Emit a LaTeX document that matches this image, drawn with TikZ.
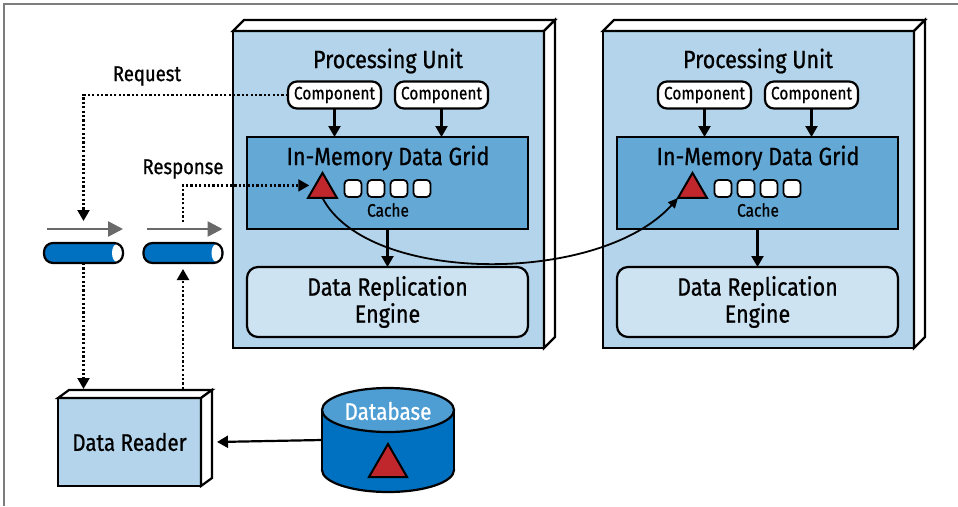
\documentclass[tikz,border=0pt]{standalone}
\usepackage{fontspec}
\setmainfont{Fira Sans}[FakeStretch=0.86, FakeBold=0.8]
\usetikzlibrary{arrows.meta,shapes.geometric,calc}
\definecolor{pufill}{RGB}{179,212,234}
\definecolor{gridfill}{RGB}{100,168,214}
\definecolor{drefill}{RGB}{206,227,241}
\definecolor{trired}{RGB}{192,39,45}
\definecolor{pipeblue}{RGB}{0,112,192}
\definecolor{dbtop}{RGB}{78,158,212}
\definecolor{framegray}{RGB}{125,125,125}
\definecolor{qgray}{RGB}{105,105,105}
\tikzset{
  every node/.style={inner sep=0pt, outer sep=0pt},
  outl/.style={draw=black, line width=2.2pt},
  face/.style={outl, fill=white},
  pubox/.style={outl, fill=pufill, minimum width=311pt, minimum height=317pt},
  titletext/.style={font=\fontsize{25}{29}\selectfont},
  comp/.style={outl, fill=white, rounded corners=9pt, minimum width=93pt, minimum height=27pt, font=\fontsize{18}{20}\selectfont},
  gridbox/.style={outl, fill=gridfill, minimum width=281pt, minimum height=92pt},
  drebox/.style={outl, fill=drefill, rounded corners=11pt, minimum width=281pt, minimum height=70pt, align=center, font=\fontsize{25}{27}\selectfont},
  trinode/.style={regular polygon, regular polygon sides=3, draw=black, line width=2pt, fill=trired, minimum size=#1},
  cachesq/.style={draw=black, line width=1.8pt, fill=white, rounded corners=4pt, minimum width=17pt, minimum height=17pt},
  smalltext/.style={font=\fontsize{18}{20}\selectfont},
  labeltext/.style={font=\fontsize{21.5}{24}\selectfont},
  arr/.style={-{Triangle[length=11pt,width=12pt]}, line width=2.2pt},
  dotarr/.style={-{Triangle[length=11pt,width=12pt]}, line width=2.2pt, dash pattern=on 2.2pt off 2.2pt},
  curvearr/.style={-{Triangle[length=10pt,width=9pt]}, line width=1.8pt},
  qarrow/.style={-{Triangle[length=15pt,width=15pt]}, line width=2.6pt, draw=qgray},
  pipebody/.style={fill=pipeblue, minimum width=#1, minimum height=20pt, rounded corners=9pt},
}
\begin{document}
\begin{tikzpicture}[x=1pt,y=-1pt]
\useasboundingbox (0,0) rectangle (958,506);
% frame
\draw[framegray, line width=1.4pt] (4,506) -- (4,4) -- (958,4);

% processing units
\foreach \i/\dx in {1/0,2/370}{
\begin{scope}[xshift=\dx pt]
  \node[pubox] (pu\i) at (388.5,189.5) {};
  \draw[face] (pu\i.north west) -- ++(11,-11) -- ($(pu\i.north east)+(11,-11)$) -- (pu\i.north east) -- cycle;
  \draw[face] (pu\i.north east) -- ++(11,-11) -- ($(pu\i.south east)+(11,-11)$) -- (pu\i.south east) -- cycle;
  \node[titletext] (title\i) at (388,61) {Processing Unit};
  \node[comp] (comp\i a) at (334.5,95) {Component};
  \node[comp] (comp\i b) at (441.5,95) {Component};
  \node[gridbox] (grid\i) at (387.5,183) {};
  \node[titletext] (gridt\i) at (388,158) {In-Memory Data Grid};
  \node[trinode=33.5pt] (tri\i) at (322.5,189.6) {};
  \foreach \k in {0,...,3}{
    \node[cachesq] (sq\i\k) at (353+23*\k,188.5) {};
  }
  \node[smalltext] (cache\i) at (388,210) {Cache};
  \node[drebox] (dre\i) at (387.5,302) {Data Replication\\Engine};
  \draw[arr] (comp\i a.south) -- (comp\i a.south |- grid\i.north);
  \draw[arr] (comp\i b.south) -- (comp\i b.south |- grid\i.north);
  \draw[arr] (grid\i.south) -- (dre\i.north);
\end{scope}
}

% replication curve
\draw[curvearr] (tri1.south) .. controls (368,285) and (600,285) .. (tri2.corner 2);

% pipes
\foreach \n/\cx in {1/83.5,2/183}{
  \node[pipebody=79pt] (pipe\n) at (\cx,253) {};
  \fill[white] ($(pipe\n.east)+(-6,0)$) ellipse [x radius=5pt, y radius=9pt];
  \draw[outl, rounded corners=9pt] (pipe\n.south west) rectangle (pipe\n.north east);
  \draw[qarrow] ([xshift=3pt,yshift=14pt]pipe\n.north west) -- ([yshift=14pt]pipe\n.north east);
}

% data reader
\node[outl, fill=pufill, minimum width=143pt, minimum height=88pt, font=\fontsize{24}{27}\selectfont] (dr) at (129.5,442) {Data Reader};
\draw[face] (dr.north west) -- ++(11,-8) -- ($(dr.north east)+(11,-8)$) -- (dr.north east) -- cycle;
\draw[face] (dr.north east) -- ++(11,-8) -- ($(dr.south east)+(11,-8)$) -- (dr.south east) -- cycle;

% database
\node[minimum width=132pt, minimum height=104pt] (db) at (388,440) {};
\draw[outl, fill=pipeblue] (388,470) ellipse [x radius=66pt, y radius=22pt];
\fill[pipeblue] (322,410) rectangle (454,470);
\draw[outl] (322,410) -- (322,470);
\draw[outl] (454,410) -- (454,470);
\draw[outl, fill=dbtop] (388,410) ellipse [x radius=66pt, y radius=22pt];
\node[text=white, font=\fontsize{24}{27}\selectfont] (dblabel) at (388,411) {Database};
\node[trinode=44pt] (dbtri) at (388,466) {};

% request / response
\coordinate (reqend) at (83.5,221);
\node[labeltext] (reqlabel) at (147,76) {Request};
\draw[dotarr] (comp1a.west) -| (reqend);
\coordinate (respstart) at (183,222);
\node[labeltext] (resplabel) at (183,169) {Response};
\coordinate (tri1edge) at ($(tri1.corner 2)!0.5!(tri1.corner 1)$);
\draw[dotarr, shorten >=6pt] (respstart) |- (tri1edge);

% pipes <-> data reader
\coordinate (drtop) at ($(dr.north west)+(0,-9)$);
\draw[dotarr] (pipe1.south) -- (pipe1.south |- drtop);
\draw[dotarr, shorten >=6pt] (pipe2.south |- drtop) -- (pipe2.south);

% database -> data reader
\coordinate (drside) at ($(dr.east)+(16,0)$);
\draw[arr] (db.west) -- (drside);
\end{tikzpicture}
\end{document}
